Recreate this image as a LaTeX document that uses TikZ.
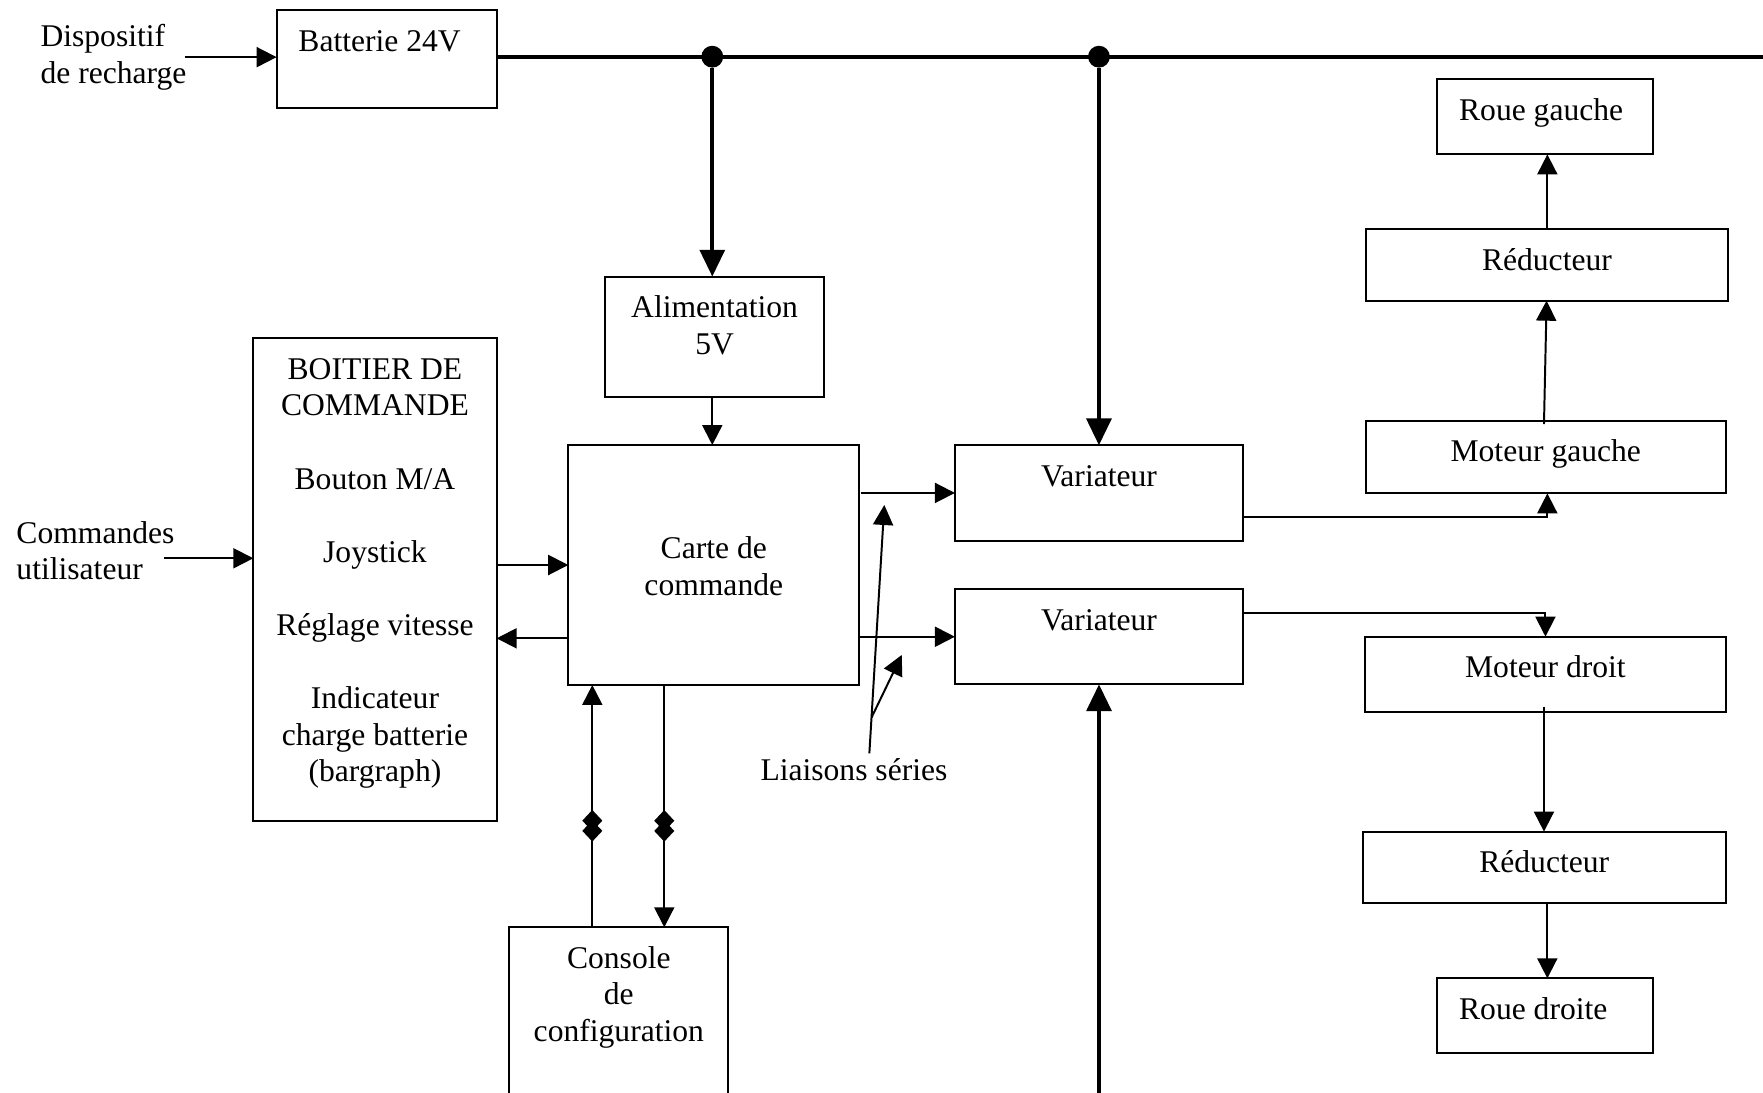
\documentclass[tikz,border=0pt]{standalone}
\usepackage{fontspec}
\setmainfont{Liberation Serif}
\usetikzlibrary{arrows.meta,calc,fit}
\newcommand\myst{\rule{0pt}{9pt}}
\begin{document}
\begin{tikzpicture}[x=0.427pt, y=-0.427pt,
  every node/.style={font=\fontsize{12}{13.9}\selectfont},
  bx/.style={draw, line width=0.75pt, inner sep=0pt, outer sep=0pt},
  lbl/.style={anchor=north, yshift=-6.37pt, inner sep=0pt, align=center},
  lbll/.style={lbl, anchor=north west, xshift=8.1pt},
  txt/.style={inner sep=0pt, align=left},
  arr/.style={line width=0.75pt, -{Triangle[length=7.6pt,width=7.6pt]}},
  tarr/.style={line width=1.55pt, -{Triangle[length=10.2pt,width=9.4pt]}},
  dotn/.style={circle, fill, inner sep=0pt, minimum size=8.3pt},
  dmd/.pic={
    \fill (0,-14.05) -- (8.9,-4.55) -- (0,4.95) -- (-8.9,-4.55) -- cycle;
    \fill (0,-4.95) -- (8.9,4.55) -- (0,14.05) -- (-8.9,4.55) -- cycle;
  }
]
\useasboundingbox (0,0) rectangle (1568,972);

% boxes
\node[bx, fit={(246,8.9) (441.7,96.4)}, label={[lbll]north west:{\myst Batterie 24V}}] (batt) {};
\node[bx, fit={(538,246) (733.1,352.8)}, label={[lbl]north:{\myst Alimentation\\5V}}] (alim) {};
\node[bx, fit={(505.4,395.8) (764.3,609.2)}, label={[lbl,yshift=-27.67pt]north:{\myst Carte de\\commande}}] (carte) {};
\node[bx, fit={(225.3,300.9) (441.7,729.9)}, label={[lbl]north:{\myst BOITIER DE\\COMMANDE\\[13.9pt]Bouton M/A\\[13.9pt]Joystick\\[13.9pt]Réglage vitesse\\[13.9pt]Indicateur\\charge batterie\\(bargraph)}}] (boit) {};
\node[bx, fit={(453,824.7) (647.8,1010)}, label={[lbl]north:{\myst Console\\de\\configuration}}] (cons) {};
\node[bx, fit={(849.3,396) (1105.6,480.8)}, label={[lbl]north:{\myst Variateur}}] (var1) {};
\node[bx, fit={(849.3,524) (1105.6,608.6)}, label={[lbl]north:{\myst Variateur}}] (var2) {};
\node[bx, fit={(1278.3,70.6) (1470.4,137.3)}, label={[lbll]north west:{\myst Roue gauche}}] (rg) {};
\node[bx, fit={(1214.6,203.7) (1537.1,267.4)}, label={[lbl]north:{\myst Réducteur}}] (red1) {};
\node[bx, fit={(1214.6,374.1) (1535,438.8)}, label={[lbl]north:{\myst Moteur gauche}}] (mg) {};
\node[bx, fit={(1214,566.2) (1535,632.9)}, label={[lbl]north:{\myst Moteur droit}}] (md) {};
\node[bx, fit={(1211.9,739.6) (1535,803.4)}, label={[lbl]north:{\myst Réducteur}}] (red2) {};
\node[bx, fit={(1278.3,870.1) (1470.4,936.8)}, label={[lbll]north west:{\myst Roue droite}}] (rd) {};

% free texts
\node[txt, anchor=north west] (disp) at (35.6,20) {\myst Dispositif\\de recharge};
\node[txt, anchor=north west] (cmd) at (14.2,461.5) {\myst Commandes\\utilisateur};
\node[inner sep=0pt, anchor=north] (lia) at (759.5,672.6) {\myst Liaisons séries};

% power bus
\coordinate (busend) at (1570,50.4);
\draw[line width=1.55pt] ($(batt.east)+(0,-2.25)$) -- (busend);
\node[dotn] (j1) at (633.5,50.4) {};
\node[dotn] (j2) at (977.4,50.4) {};
\draw[tarr] (j1) -- (j1 |- alim.north);
\draw[tarr] (j2) -- (j2 |- var1.north);
\coordinate (vbot) at (977.45,990);
\draw[tarr] (vbot) -- (var2.south);

% signal connectors
\draw[arr] ($(disp.east)+(-2,0.5)$) coordinate (a1) -- (a1 -| batt.west);
\draw[arr] ($(cmd.east)+(-9.4,7.6)$) coordinate (a2) -- (a2 -| boit.west);
\draw[arr] (j1 |- alim.south) -- (j1 |- carte.north);
\draw[arr] (carte.west -| boit.east) -- (carte.west);
\draw[arr] ($(carte.west)+(0,65.2)$) coordinate (a3) -- (a3 -| boit.east);
\draw[arr] ($(var1.west -| carte.east)+(1.4,0)$) -- (var1.west);
\draw[arr] (var2.west -| carte.east) -- (var2.west);
\draw[arr] ($(var1.east)+(0,21.1)$) -| ($(mg.south)+(1.4,0)$);
\draw[arr] ($(var2.east)+(0,-20.8)$) -| (md.north);
\draw[arr] ($(mg.north)+(-1.6,3)$) -- ($(red1.south)+(-0.3,0)$);
\draw[arr] ($(red1.north)+(0.35,0)$) coordinate (a4) -- (a4 |- rg.south);
\draw[arr] ($(md.south)+(-1.3,-4.4)$) coordinate (a5) -- (a5 |- red2.north);
\draw[arr] ($(red2.south)+(2.75,0)$) coordinate (a6) -- (a6 |- rd.north);

% console links
\draw[arr] ($(cons.north)+(-23.6,0)$) coordinate (c1) -- (c1 |- carte.south);
\draw[arr] ($(carte.south -| cons.north)+(40.4,0)$) coordinate (c2) -- (c2 |- cons.north);
\path ($(c1)!0.419!(c1 |- carte.south)$) pic {dmd};
\path ($(c2)!0.5814!(c2 |- cons.north)$) pic {dmd};

% liaisons series pointers
\coordinate (tip1) at (786.5,449.1);
\coordinate (tip2) at (802,582.5);
\draw[arr] ($(lia.north)+(13.7,-2.6)$) coordinate (lsA) -- (tip1);
\draw[arr] ($(lsA)!0.144!(tip1)$) -- (tip2);
\end{tikzpicture}
\end{document}
